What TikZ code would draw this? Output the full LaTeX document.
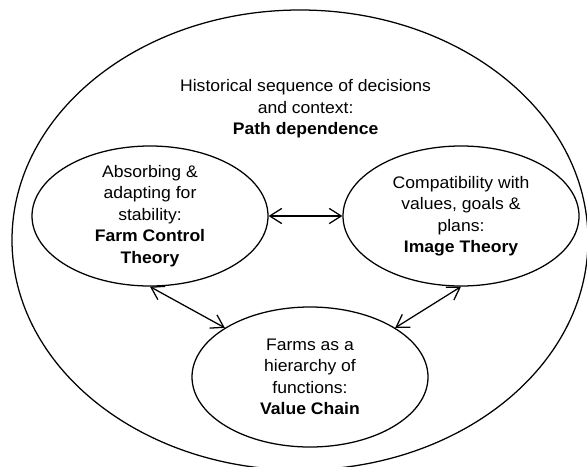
\documentclass[tikz,border=0pt]{standalone}
\usepackage{fontspec}
\setmainfont[FakeStretch=1.05]{Liberation Sans}
\usetikzlibrary{shapes.geometric,arrows.meta}

\begin{document}
\begin{tikzpicture}[
  theory/.style={draw, ellipse, line width=0.9pt, minimum width=5.9cm, minimum height=3.5cm,
    inner xsep=0pt, inner ysep=-3pt, align=center, font=\fontsize{11.9}{15.3}\selectfont},
  link/.style={{Straight Barb[length=3mm,width=3.8mm]}-{Straight Barb[length=3mm,width=3.8mm]}, line width=0.9pt}]
\useasboundingbox (0,0) rectangle (14.675,11.65);
% outer context: path dependence
\draw[line width=0.9pt] (7.5,5.65) ellipse (7.2 and 5.75);
\node[align=center, font=\fontsize{11.9}{15.3}\selectfont] (pd) at (7.64,8.925)
  {Historical sequence of decisions\\and context:\\\textbf{Path dependence}};
% the three theories
\node[theory] (fct) at (3.75,6.25) {Absorbing \&\\adapting for\\stability:\\\textbf{Farm Control}\\\textbf{Theory}};
\node[theory] (img) at (11.525,6.25) {Compatibility with\\values, goals \&\\plans:\\\textbf{Image Theory}};
\node[theory] (vc) at (7.75,2.225) {Farms as a\\hierarchy of\\functions:\\\textbf{Value Chain}};
% links
\draw[link] (fct) -- (img);
\draw[link] (fct.south) -- (vc.150);
\draw[link] (img.south) -- (vc.30);
\end{tikzpicture}
\end{document}
